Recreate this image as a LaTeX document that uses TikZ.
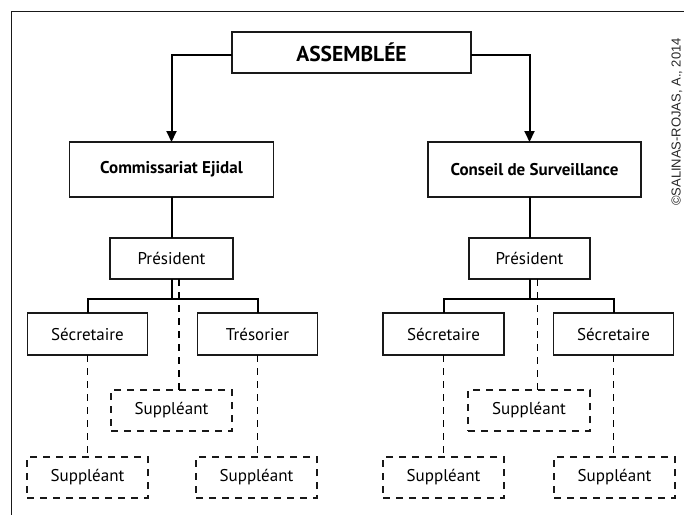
\documentclass[tikz,border=0pt]{standalone}
\usepackage{fontspec}
\setmainfont{PT Sans}
\newfontfamily\notefont{Liberation Sans}
\usetikzlibrary{arrows.meta}
\begin{document}
\begin{tikzpicture}[x=1pt,y=-1pt,
  every node/.style={inner sep=0pt, outer sep=0pt},
  solidbox/.style={draw=black!90, line width=1.4pt, fill=white,
    minimum width=121pt, minimum height=41pt,
    font=\fontsize{17}{19}\selectfont},
  headbox/.style={solidbox, minimum height=55pt,
    font=\fontsize{17}{19}\selectfont\bfseries},
  subbox/.style={draw=black!90, line width=1.2pt, dash pattern=on 7pt off 6pt,
    minimum width=121pt, minimum height=41pt,
    font=\fontsize{17}{19}\selectfont},
  wire/.style={draw=black, line width=2pt},
  dwire/.style={draw=black, line width=1.4pt, dash pattern=on 7pt off 6pt},
  arrowwire/.style={wire, -{Triangle[length=11pt,width=10pt]}},
]
\useasboundingbox (0,0) rectangle (684,515);

% outer frame (top and left rules)
\draw[line width=1.2pt, black!90] (684,11.5) -- (11.5,11.5) -- (11.5,515);

% credit line
\node[rotate=90, font=\notefont\fontsize{13}{15}\selectfont, text=black!85] (credit) at (677,122) {©SALINAS-ROJAS, A., 2014};

% top level
\node[solidbox, minimum width=239pt, font=\fontsize{21.5}{23}\selectfont\bfseries] (asm) at (351.5,52.5) {ASSEMBLÉE};
\node[headbox, minimum width=204pt] (ce) at (171.5,169.5) {Commissariat Ejidal};
\node[headbox, minimum width=213pt] (cs) at (534.5,169.5) {Conseil de Surveillance};

% left branch
\node[solidbox, minimum width=123pt] (prL) at (171.5,258.5) {Président};
\node[solidbox, minimum width=120pt, minimum height=42pt] (secL) at (87.5,334) {Sécretaire};
\node[solidbox, minimum width=120pt, minimum height=42pt] (tres) at (257.5,334) {Trésorier};
\node[subbox] (supL) at (171.5,410.5) {Suppléant};
\node[subbox] (supLa) at (87.5,477.5) {Suppléant};
\node[subbox] (supLb) at (256.5,477.5) {Suppléant};

% right branch
\node[solidbox] (prR) at (529.5,258.5) {Président};
\node[solidbox, minimum height=42pt] (secRa) at (443.5,334) {Sécretaire};
\node[solidbox, minimum width=120pt, minimum height=42pt] (secRb) at (613.5,334) {Sécretaire};
\node[subbox, minimum width=122pt] (supR) at (529,410.5) {Suppléant};
\node[subbox] (supRa) at (443.5,477.5) {Suppléant};
\node[subbox] (supRb) at (614.5,477.5) {Suppléant};

% junctions below the presidents
\coordinate (jl) at (171.5,298.5);
\coordinate (jr) at (529.5,298.5);

% assembly to the two councils
\draw[arrowwire] ([yshift=-2.5pt]asm.west) -| (ce.north);
\draw[arrowwire] ([yshift=-2.5pt]asm.east) -| (prR.north |- cs.north);

% councils to presidents
\draw[wire] (ce.south) -- (prL.north);
\draw[wire] (cs.south -| prR.north) -- (prR.north);

% presidents to officers
\draw[wire] (prL.south) -- (jl);
\draw[wire] (secL.north) |- (jl) -| (tres.north);
\draw[wire] (prR.south) -- (jr);
\draw[wire] (secRa.north) |- (jr) -| (secRb.north);

% substitutes
\draw[dwire] ([xshift=7.5pt]prL.south) -- ([xshift=7.5pt]prL.south |- supL.north);
\draw[dwire] ([xshift=8pt]prR.south) -- ([xshift=8pt]prR.south |- supR.north);
\draw[dwire] (secL.south) -- (secL.south |- supLa.north);
\draw[dwire] (tres.south) -- (tres.south |- supLb.north);
\draw[dwire] (secRa.south) -- (secRa.south |- supRa.north);
\draw[dwire] (secRb.south) -- (secRb.south |- supRb.north);
\end{tikzpicture}
\end{document}
